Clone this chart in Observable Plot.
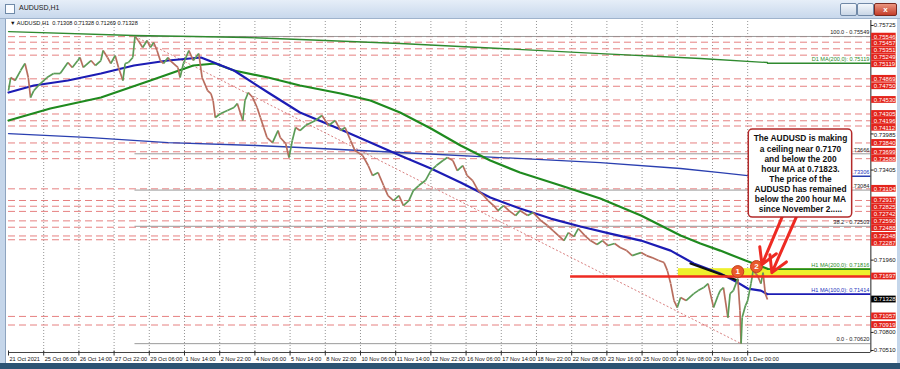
<!DOCTYPE html>
<html>
<head>
<meta charset="utf-8">
<script src="https://cdn.jsdelivr.net/npm/d3@7"></script>
<script src="https://cdn.jsdelivr.net/npm/@observablehq/plot@0.6"></script>
<style>
html,body{margin:0;padding:0}
body{width:900px;height:369px;overflow:hidden;position:relative;font-family:"Liberation Sans",Arial,sans-serif;background:#fff}
#chart{position:absolute;left:0;top:0}
.chrome{position:absolute;z-index:2}
#titlebar{left:0;top:0;width:900px;height:18px;background:linear-gradient(#e6eef8,#c8d8ec);border-bottom:1px solid #9fb3cc}
#titletext{left:19px;top:4px;font-size:7px;color:#1a1a1a}
#icon{left:5px;top:4px;width:8px;height:8px;border:1px solid #6f8aa8;background:#fafcff}
#lframe{left:0;top:19px;width:5px;height:344px;background:#c5d6ea;border-right:1px solid #8ea4bf}
#rframe{left:897px;top:19px;width:3px;height:344px;background:#c5d6ea}
#bframe{left:0;top:363px;width:900px;height:6px;background:#2c5373}
.btn{top:3px;height:11px;border:1px solid #7088a6;border-radius:2px;background:linear-gradient(#f4f7fb,#c9d6e6)}
#bclose{background:linear-gradient(#eb9580,#c43d2a);border-color:#7a2a20;color:#fff;font-size:8px;font-weight:bold;text-align:center;line-height:11px}
#header{left:10px;top:20px;font-size:5.6px;color:#111;white-space:pre}
</style>
</head>
<body>
<div id="chart"></div>
<div class="chrome" id="titlebar"></div>
<div class="chrome" id="icon"></div>
<div class="chrome" id="titletext">AUDUSD,H1</div>
<div class="chrome btn" style="left:840px;width:15px"></div>
<div class="chrome btn" style="left:857px;width:15px"></div>
<div class="chrome btn" id="bclose" style="left:874px;width:21px">x</div>
<div class="chrome" id="lframe"></div>
<div class="chrome" id="rframe"></div>
<div class="chrome" id="bframe"></div>
<div class="chrome" id="header">▼ AUDUSD,H1  0.71308 0.71328 0.71269 0.71328</div>
<script>
// ---------------- data ----------------
const timeLabels = ["21 Oct 2021","25 Oct 06:00","26 Oct 14:00","27 Oct 22:00","29 Oct 06:00","1 Nov 14:00","2 Nov 22:00","4 Nov 06:00","5 Nov 14:00","8 Nov 22:00","10 Nov 06:00","11 Nov 14:00","12 Nov 22:00","16 Nov 06:00","17 Nov 14:00","18 Nov 22:00","22 Nov 08:00","23 Nov 16:00","25 Nov 00:00","26 Nov 08:00","29 Nov 16:00","1 Dec 00:00"];
const barsPerLabel = 32;

// [bar index, price]
const priceTrace = [
[0,0.74681],[2,0.74890],[6,0.74842],[11,0.75002],[15,0.75115],[18,0.74890],[20,0.74569],[23,0.74681],[29,0.74794],[35,0.74890],[41,0.74954],[47,0.74954],[54,0.75131],[58,0.75051],[63,0.75163],[65,0.75211],[68,0.75051],[75,0.75163],[79,0.75083],[84,0.75163],[86,0.75323],[90,0.75211],[93,0.75115],[97,0.75243],[100,0.75051],[104,0.74842],[106,0.75115],[109,0.75131],[113,0.75211],[115,0.75549],[118,0.75484],[122,0.75372],[126,0.75484],[129,0.75372],[132,0.75452],[135,0.75323],[138,0.75163],[141,0.75115],[145,0.75211],[147,0.75163],[154,0.75051],[156,0.74890],[159,0.75115],[164,0.75323],[168,0.75163],[173,0.75275],[176,0.74890],[181,0.74681],[184,0.74633],[186,0.74521],[188,0.74248],[193,0.74312],[199,0.74360],[205,0.74409],[208,0.74473],[213,0.74200],[215,0.74521],[218,0.74649],[222,0.74569],[226,0.74409],[229,0.74248],[232,0.74088],[235,0.73927],[240,0.73847],[245,0.74039],[247,0.73927],[252,0.73831],[255,0.73606],[258,0.73879],[261,0.74088],[265,0.74039],
[270,0.74120],[279,0.74200],[285,0.74280],[291,0.74120],[297,0.74200],[302,0.74039],[306,0.74088],[311,0.73879],[315,0.73718],[322,0.73638],[327,0.73478],[331,0.73317],[336,0.73365],[341,0.73157],[345,0.72996],[350,0.72916],[355,0.72996],[359,0.72836],[364,0.72916],[368,0.73076],[373,0.73157],[379,0.73237],[384,0.73397],[389,0.73478],[395,0.73558],[399,0.73606],[404,0.73558],[408,0.73397],[413,0.73478],[417,0.73317],[422,0.73237],[427,0.73076],[432,0.72996],[436,0.72916],[441,0.72836],[445,0.72755],[450,0.72836],[455,0.72755],[461,0.72675],[465,0.72755],[472,0.72675],[477,0.72723],[484,0.72595],[490,0.72515],[495,0.72434],[500,0.72354],[505,0.72274],[509,0.72402],[514,0.72338],[518,0.72467],[524,0.72354],[529,0.72274],[535,0.72210],[540,0.72274],[545,0.72194],[551,0.72226],[556,0.72162],[562,0.72113],[567,0.72033],[575,0.72081],[580,0.72033],[585,0.72001],[591,0.71953],[596,0.71921],[599,0.71792],[602,0.71584],[605,0.71311],[608,0.71199],[611,0.71359],[616,0.71311],[623,0.71423],[627,0.71471],[632,0.71520],[636,0.71584],[641,0.71199],[645,0.71391],[647,0.71471],[650,0.71520],[654,0.71038],[656,0.71423],[659,0.71471],[663,0.71664],[665,0.71150],[666,0.70620],[667,0.71038],[670,0.71231],[672,0.71311],[675,0.71584],[677,0.71792],[681,0.71712],[684,0.71584],[686,0.71760],[688,0.71423],[690,0.71328]
];
const h1Ma100 = [[0,0.74649],[23,0.74762],[54,0.74842],[84,0.74954],[114,0.75083],[145,0.75163],[175,0.75211],[205,0.75002],[236,0.74649],[265,0.74328],[302,0.74056],[329,0.73847],[356,0.73638],[384,0.73429],[411,0.73205],[438,0.72964],[465,0.72788],[493,0.72627],[520,0.72499],[547,0.72386],[575,0.72274],[602,0.72113],[623,0.71905],[647,0.71744],[663,0.71600],[672,0.71504],[684,0.71471],[690,0.71414]];
const h1Ma200 = [[0,0.74200],[38,0.74393],[84,0.74569],[129,0.74842],[168,0.75083],[188,0.75115],[205,0.75002],[236,0.74890],[265,0.74762],[302,0.74633],[329,0.74521],[356,0.74328],[384,0.74072],[411,0.73799],[438,0.73558],[465,0.73365],[502,0.73157],[538,0.72948],[575,0.72675],[611,0.72354],[629,0.72226],[647,0.72113],[670,0.71953],[690,0.71823]];
const d1Ma200 = [[0,0.75628],[114,0.75564],[168,0.75548],[217,0.75532],[265,0.75500],[356,0.75436],[447,0.75356],[538,0.75275],[629,0.75195],[690,0.75131]];
const d1Ma100 = [[0,0.73991],[75,0.73927],[145,0.73847],[225,0.73799],[265,0.73767],[356,0.73687],[447,0.73606],[538,0.73526],[611,0.73430],[647,0.73365],[672,0.73317],[690,0.73306]];

const redLevels = [0.75546,0.75457,0.75351,0.75249,0.74869,0.74750,0.74530,0.74305,0.74196,0.74112,0.73840,0.73699,0.73588,0.73104,0.72917,0.72825,0.72742,0.72590,0.72488,0.72348,0.72287,0.71057,0.70919];
const redLabelLevels = [0.75546,0.75457,0.75351,0.75249,0.75119,0.74869,0.74750,0.74530,0.74305,0.74196,0.74112,0.73840,0.73699,0.73588,0.73104,0.72917,0.72825,0.72742,0.72590,0.72488,0.72348,0.72287,0.71697,0.71057,0.70919];
const axisTicks = [0.75725,0.73985,0.73405,0.71960,0.70800,0.70510];

const fibPct = ["100.0","61.8","50.0","38.2","0.0"];
const fibValues = [0.75549,0.73666,0.73084,0.72503,0.70620];
const fibHighBar = 115, fibLowBar = 666;

const lastPrice = 0.71328;
const ceiling = 0.71697;
const ma200Now = 0.71823;
const maLabels = [
  {name:"H1 MA(200,0): 0.71816", value:0.71816, color:"#2a8a2a"},
  {name:"H1 MA(100,0): 0.71414", value:0.71414, color:"#2233bb"},
  {name:"D1 MA(200,0): 0.75119", value:0.75119, color:"#2a8a2a"},
  {name:".73306", value:0.73306, color:"#2233bb"}
];
const ceilingStartBar = 511, zoneStartBar = 609, maEndBar = 690;
const blackSegment = [[620,0.71905],[663,0.71632]];
const circles = [{n:"1",bar:663,price:0.71776},{n:"2",bar:680,price:0.71857}];
const noteLines = ["The AUDUSD is making","a ceiling near 0.7170","and below the 200","hour MA at 0.71823.","The price of the","AUDUSD has remained","below the 200 hour MA","since November 2....."];
const noteBox = {bar1:673, bar2:767, p1:0.72643, p2:0.74056};
const arrows = [{b1:705,p1:0.72723,b2:685,p2:0.71889},{b1:718,p1:0.72723,b2:694,p2:0.71760}];

// ---------------- layout ----------------
const xMax = 807.3, lastBar = 784;
const yMin = 0.70478, yMax = 0.75805;
const ppx = (yMax - yMin) / 332;
const F = "Liberation Sans, Arial, sans-serif";

const segs = d3.pairs(priceTrace).map(([a,b]) => ({x1:a[0],y1:a[1],x2:b[0],y2:b[1],up:b[1]>=a[1]}));
const tl = timeLabels.map((t,i)=>({t, bar:i*barsPerLabel}));
const fib = fibPct.map((p,i)=>({p, v:fibValues[i], text: (i===1||i===2) ? "." + fibValues[i].toFixed(5).slice(2) : `${p} - ${fibValues[i].toFixed(5)}`}));

// right-axis labels, stacked so they do not overlap (as the terminal does)
const axisItems = [
  ...axisTicks.map(v=>({v, kind:"tick"})),
  ...redLabelLevels.map(v=>({v, kind:"red"})),
  {v:lastPrice, kind:"price"}
].sort((a,b)=>b.v-a.v);
const gap = 6.9*ppx;
axisItems.forEach((d,i)=>{ d.pos = d.v; if(i>0){ const prev = axisItems[i-1].pos; if(prev - d.pos < gap) d.pos = prev - gap; } });
const boxH = 3.4*ppx;

const chart = Plot.plot({
  width:900, height:369,
  marginLeft:8, marginRight:4, marginTop:20, marginBottom:17,
  x:{domain:[0,xMax], axis:null},
  y:{domain:[yMin,yMax], axis:null},
  style:{fontFamily:F, background:"white"},
  marks:[
    Plot.ruleX(tl.slice(1), {x:"bar", y1:()=>yMin, y2:()=>yMax, stroke:"#7a7a7a", strokeDasharray:"1,2", strokeWidth:0.8}),
    Plot.ruleY(redLevels, {y:d=>d, x1:()=>0, x2:()=>lastBar, stroke:"#e68080", strokeDasharray:"7,4", strokeWidth:1}),
    Plot.ruleY(fib, {y:"v", x1:()=>fibHighBar, x2:()=>lastBar, stroke:"#8e8e8e", strokeWidth:0.9}),
    Plot.rect([0], {x1:()=>zoneStartBar, x2:()=>lastBar, y1:()=>ceiling, y2:()=>ma200Now, fill:"#eef02c"}),
    Plot.link([0], {x1:()=>fibHighBar, y1:()=>fibValues[0], x2:()=>fibLowBar, y2:()=>fibValues[4], stroke:"#d47070", strokeDasharray:"2,2", strokeWidth:0.9}),
    Plot.line(d1Ma200, {x:d=>d[0], y:d=>d[1], stroke:"#2f8a2f", strokeWidth:1.3}),
    Plot.ruleY([maLabels[2].value], {x1:()=>maEndBar, x2:()=>lastBar, stroke:"#2f8a2f", strokeWidth:1.3}),
    Plot.line(d1Ma100, {x:d=>d[0], y:d=>d[1], stroke:"#2a3fb0", strokeWidth:1.3}),
    Plot.ruleY([maLabels[3].value], {x1:()=>maEndBar, x2:()=>lastBar, stroke:"#2a3fb0", strokeWidth:1.3}),
    Plot.line(h1Ma200, {x:d=>d[0], y:d=>d[1], stroke:"#1f8a1f", strokeWidth:2.2}),
    Plot.ruleY([maLabels[0].value], {x1:()=>maEndBar, x2:()=>lastBar, stroke:"#1f8a1f", strokeWidth:1.6}),
    Plot.line(h1Ma100, {x:d=>d[0], y:d=>d[1], stroke:"#1c1cb4", strokeWidth:2.2}),
    Plot.ruleY([maLabels[1].value], {x1:()=>maEndBar, x2:()=>lastBar, stroke:"#1c1cb4", strokeWidth:1.6}),
    Plot.line(blackSegment, {x:d=>d[0], y:d=>d[1], stroke:"#111", strokeWidth:2.2}),
    Plot.link(segs.filter(d=>!d.up), {x1:"x1",y1:"y1",x2:"x2",y2:"y2", stroke:"#b86d5e", strokeWidth:1.7}),
    Plot.link(segs.filter(d=>d.up), {x1:"x1",y1:"y1",x2:"x2",y2:"y2", stroke:"#5b9c57", strokeWidth:1.7}),
    Plot.ruleY([ceiling], {x1:()=>ceilingStartBar, x2:()=>lastBar, stroke:"#ee2a22", strokeWidth:2.6}),
    Plot.dot(circles, {x:"bar", y:"price", r:6, fill:"#ea5a2c", stroke:"#c2401c", strokeWidth:1}),
    Plot.text(circles, {x:"bar", y:"price", text:"n", fill:"white", fontSize:8, fontWeight:"bold"}),
    // line labels
    Plot.text(fib, {x:()=>lastBar, y:"v", text:"text", textAnchor:"end", dx:-1.5, dy:-4, fontSize:5.6, fill:"#222"}),
    Plot.text(maLabels, {x:()=>lastBar, y:"value", text:"name", textAnchor:"end", dx:-1.5, dy:-4, fontSize:5.6, fill:d=>d.color}),
    // annotation
    Plot.arrow(arrows, {x1:"b1", y1:"p1", x2:"b2", y2:"p2", stroke:"#ee2a22", strokeWidth:3, headLength:9}),
    Plot.rect([noteBox], {x1:"bar1", x2:"bar2", y1:"p1", y2:"p2", fill:"white", stroke:"#b32a2a", strokeWidth:1.5, rx:4}),
    Plot.text([noteLines.join("\n")], {x:()=>(noteBox.bar1+noteBox.bar2)/2, y:()=>(noteBox.p1+noteBox.p2)/2, text:d=>d, fontSize:8.4, fontWeight:"bold", lineHeight:1.2, fill:"#111"}),
    // frame lines
    Plot.ruleX([lastBar], {y1:()=>yMin, y2:()=>yMax, stroke:"#222", strokeWidth:1}),
    Plot.ruleY([yMin], {x1:()=>0, x2:()=>lastBar, stroke:"#444", strokeWidth:1}),
    // right axis
    Plot.link(axisItems.filter(d=>d.kind==="tick"), {x1:()=>lastBar, x2:()=>lastBar+2.5, y1:"v", y2:"v", stroke:"#222"}),
    Plot.rect(axisItems.filter(d=>d.kind!=="tick"), {x1:()=>lastBar+0.7, x2:()=>xMax-0.3, y1:d=>d.pos-boxH, y2:d=>d.pos+boxH, fill:d=>d.kind==="red"?"#e3241b":"#000"}),
    Plot.text(axisItems, {x:()=>lastBar, y:"pos", text:d=>d.v.toFixed(5), textAnchor:"start", dx:3, fontSize:6, fill:d=>d.kind==="tick"?"#111":"white"}),
    // time axis
    Plot.link(tl, {x1:"bar", x2:"bar", y1:()=>yMin+2*ppx, y2:()=>yMin-3*ppx, stroke:"#333"}),
    Plot.text(tl, {x:"bar", y:()=>yMin, text:"t", textAnchor:"start", dx:1, dy:7, fontSize:5.6, fill:"#111"})
  ]
});
document.getElementById("chart").appendChild(chart);
</script>
</body>
</html>
